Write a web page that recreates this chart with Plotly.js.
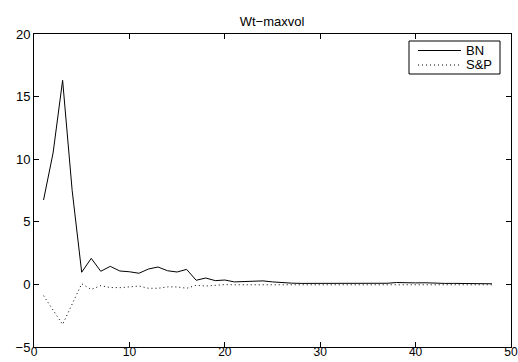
<!DOCTYPE html>
<html>
<head>
<meta charset="utf-8">
<script src="https://cdn.plot.ly/plotly-3.0.1.min.js"></script>
<style>html,body{margin:0;padding:0;background:#fff;}#chart{width:518px;height:362px;}</style>
</head>
<body>
<div id="chart"></div>
<script>
const lags = [];
for (let i = 1; i <= 48; i++) lags.push(i);
const bn = [6.74, 10.5, 16.3, 7.5, 0.97, 2.08, 1.05, 1.44, 1.07, 1.01,
            0.89, 1.23, 1.39, 1.09, 0.99, 1.2, 0.33, 0.51, 0.3, 0.35,
            0.2, 0.22, 0.25, 0.28, 0.2, 0.12, 0.1, 0.08, 0.08, 0.08,
            0.08, 0.08, 0.07, 0.07, 0.07, 0.08, 0.09, 0.15, 0.12, 0.12,
            0.13, 0.08, 0.08, 0.08, 0.08, 0.08, 0.1, 0.05];
const sp = [-0.9, -2.0, -3.2, -1.57, 0.05, -0.4, -0.1, -0.25, -0.26, -0.2,
            -0.13, -0.31, -0.31, -0.2, -0.2, -0.31, -0.07, -0.13, -0.05, -0.02,
            -0.03, -0.03, -0.03, -0.03, -0.03, -0.03, -0.03, -0.03, -0.03, -0.03,
            -0.03, -0.03, -0.03, -0.03, -0.03, -0.03, -0.03, -0.03, -0.03, -0.03,
            -0.03, -0.03, -0.03, -0.03, -0.03, -0.03, -0.03, -0.03];
const seriesNames = ["BN", "S&P"];
const titleText = "Wt\u2212maxvol";
const xTicks = [0, 10, 20, 30, 40, 50];
const yTicks = [-5, 0, 5, 10, 15, 20];

const W = 518, H = 362;
const M = {l: 34, r: 7, t: 34, b: 15};
const pw = W - M.l - M.r, ph = H - M.t - M.b;
const px = v => (v - M.l) / pw;          // pixel -> paper x
const py = v => (H - M.b - v) / ph;      // pixel -> paper y

const font = {family: "Liberation Sans, Arial, Helvetica, sans-serif", size: 13, color: "#000"};
const dashes = ["solid", "1px,3px"];
const traces = [
  {x: lags, y: bn, name: seriesNames[0], type: "scatter", mode: "lines",
   line: {color: "#000", width: 1, dash: dashes[0]}},
  {x: lags, y: sp, name: seriesNames[1], type: "scatter", mode: "lines",
   line: {color: "#000", width: 1, dash: dashes[1]}}
];
const axisCommon = {
  showgrid: false, zeroline: false, showline: true, linecolor: "#000", linewidth: 1,
  mirror: "ticks", ticks: "inside", ticklen: 5, tickcolor: "#000", tickwidth: 1,
  tickfont: font, ticklabeloverflow: "allow"
};

// legend box drawn as decoration
const legBox = {x0: 409, x1: 500, y0: 41, y1: 74};
const legRows = [50.5, 65];
const shapes = [{type: "rect", xref: "paper", yref: "paper",
  x0: px(legBox.x0), x1: px(legBox.x1), y0: py(legBox.y1), y1: py(legBox.y0),
  line: {color: "#000", width: 1}, fillcolor: "#fff", layer: "above"}];
const annotations = [];
seriesNames.forEach((nm, i) => {
  shapes.push({type: "line", xref: "paper", yref: "paper",
    x0: px(418), x1: px(461), y0: py(legRows[i]), y1: py(legRows[i]),
    line: {color: "#000", width: 1, dash: dashes[i]}, layer: "above"});
  annotations.push({text: nm, xref: "paper", yref: "paper", x: px(464), y: py(legRows[i]),
    xanchor: "left", yanchor: "middle", showarrow: false, font: font});
});

const layout = {
  width: W, height: H,
  margin: {l: M.l, r: M.r, t: M.t, b: M.b, pad: 0},
  paper_bgcolor: "#fff", plot_bgcolor: "#fff",
  font: font,
  title: {text: titleText, font: {family: font.family, size: 13, color: "#000"},
          x: 272 / W, xanchor: "center", xref: "container",
          y: 1 - 21 / H, yanchor: "middle", yref: "container"},
  xaxis: Object.assign({}, axisCommon, {range: [0, 50], tickvals: xTicks,
          ticktext: xTicks.map(String), ticklabelstandoff: -6,
          tickfont: {family: font.family, size: 12, color: "#000"}}),
  yaxis: Object.assign({}, axisCommon, {range: [-5, 20], tickvals: yTicks,
          ticktext: yTicks.map(v => v < 0 ? "\u2212" + Math.abs(v) : String(v))}),
  showlegend: false,
  shapes: shapes,
  annotations: annotations
};
Plotly.newPlot("chart", traces, layout, {displayModeBar: false, staticPlot: true});
</script>
</body>
</html>
